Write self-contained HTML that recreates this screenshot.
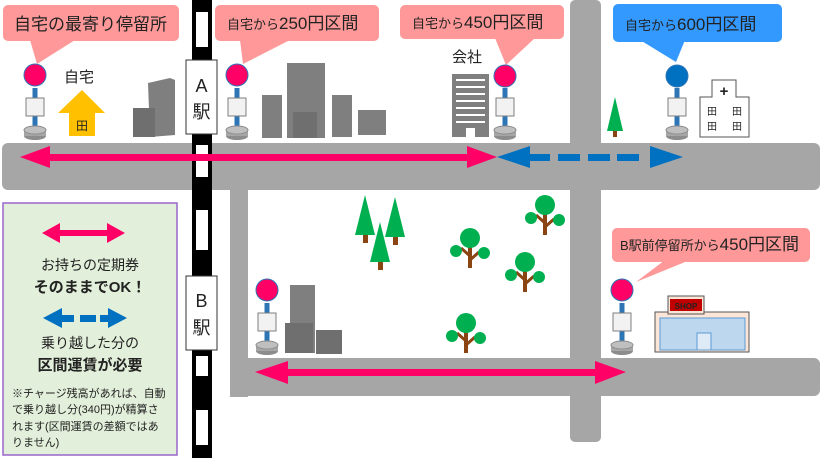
<!DOCTYPE html>
<html><head><meta charset="utf-8"><style>
body{margin:0;width:830px;height:458px;overflow:hidden;background:#fff}
svg{display:block}
text{font-family:"Liberation Sans","Noto Sans CJK JP",sans-serif;fill:#222}
</style></head><body>
<svg width="830" height="458" viewBox="0 0 830 458">
<defs>
<g id="stop">
<rect x="-2.5" y="8" width="5" height="42" fill="#2e75b6"/>
<rect x="-9" y="18" width="18" height="18" fill="#f2f2f2" stroke="#7f7f7f"/>
<ellipse cx="0" cy="56" rx="11" ry="4" fill="#8c8c8c"/>
<rect x="-11" y="50" width="22" height="6" fill="#a6a6a6"/>
<ellipse cx="0" cy="50" rx="11" ry="4" fill="#bfbfbf" stroke="#8c8c8c"/>
</g>
<g id="tree">
<rect x="-2" y="8" width="4" height="22" fill="#8b4513"/>
<path d="M0 18 L-9 10 M0 22 L9 14" stroke="#8b4513" stroke-width="3"/>
<circle cx="0" cy="0" r="10" fill="#00b050"/>
<circle cx="-14" cy="13" r="6" fill="#00b050"/>
<circle cx="14" cy="15" r="6" fill="#00b050"/>
</g>
<g id="pine">
<path d="M0 0 L-10 40 L10 40Z" fill="#00b050"/>
<rect x="-2" y="40" width="5" height="8" fill="#8b4513"/>
</g>
</defs>

<!-- roads -->
<rect x="2" y="143" width="818" height="47" rx="6" fill="#a6a6a6"/>
<rect x="570" y="0" width="31" height="442" rx="5" fill="#a6a6a6"/>
<rect x="230" y="185" width="18" height="212" fill="#a6a6a6"/>
<rect x="230" y="358" width="590" height="38" rx="6" fill="#a6a6a6"/>

<!-- railway -->
<rect x="192" y="0" width="20" height="458" fill="#000"/>
<g fill="#fff">
<rect x="196" y="12" width="12" height="35"/><rect x="196" y="145" width="12" height="32"/>
<rect x="196" y="210" width="12" height="40"/><rect x="196" y="356" width="12" height="20"/>
<rect x="196" y="410" width="12" height="35"/>
</g>
<rect x="186" y="60" width="31" height="74" fill="#fff" stroke="#333"/>
<text x="201.5" y="92" font-size="18" text-anchor="middle">A</text>
<text x="201.5" y="118" font-size="18" text-anchor="middle">駅</text>
<rect x="186" y="276" width="31" height="74" fill="#fff" stroke="#333"/>
<text x="201.5" y="307" font-size="18" text-anchor="middle">B</text>
<text x="201.5" y="334" font-size="18" text-anchor="middle">駅</text>

<!-- bubbles -->
<g fill="#ff9999">
<rect x="3" y="5" width="176" height="36" rx="5"/><path d="M30 40 L37 64 L75 40Z"/>
<rect x="215" y="5" width="164" height="36" rx="5"/><path d="M240 40 L243 64 L290 40Z"/>
<rect x="400" y="5" width="164" height="34" rx="5"/><path d="M495 38 L506 65 L535 38Z"/>
<rect x="612" y="228" width="198" height="34" rx="5"/><path d="M690 260 L636 282 L665 260Z"/>
</g>
<g fill="#3399ff"><rect x="613" y="4" width="169" height="38" rx="5"/><path d="M640 40 L676 62 L685 40Z"/></g>
<text x="14" y="30" font-size="17">自宅の最寄り停留所</text>
<text x="227" y="29" font-size="13">自宅から<tspan font-size="17">250円区間</tspan></text>
<text x="412" y="28" font-size="13">自宅から<tspan font-size="17">450円区間</tspan></text>
<text x="625" y="30" font-size="13">自宅から<tspan font-size="17">600円区間</tspan></text>
<text x="620" y="250" font-size="13">B駅前停留所から<tspan font-size="17">450円区間</tspan></text>

<!-- stops -->
<use href="#stop" x="35" y="80"/><circle cx="35" cy="75" r="11" fill="#ff0066" stroke="#2e75b6"/>
<use href="#stop" x="237" y="80"/><circle cx="237" cy="75" r="11" fill="#ff0066" stroke="#2e75b6"/>
<use href="#stop" x="505" y="80"/><circle cx="505" cy="76" r="11" fill="#ff0066" stroke="#2e75b6"/>
<use href="#stop" x="677" y="80"/><circle cx="677" cy="76" r="11" fill="#0070c0" stroke="#2e75b6"/>
<use href="#stop" x="267" y="295"/><circle cx="267" cy="290" r="11" fill="#ff0066" stroke="#2e75b6"/>
<use href="#stop" x="622" y="295"/><circle cx="622" cy="290" r="11" fill="#ff0066" stroke="#2e75b6"/>

<!-- home -->
<text x="64" y="82" font-size="15">自宅</text>
<path d="M82 90 L105 113 L95 113 L95 136 L69 136 L69 113 L58 113Z" fill="#ffc000"/>
<text x="82" y="130" font-size="12" text-anchor="middle" fill="#7f6000">田</text>

<!-- gray buildings -->
<g fill="#7f7f7f">
<path d="M148 83 L170 78 L175 80 L175 135 L150 137Z"/>
<rect x="133" y="108" width="22" height="29" fill="#6f6f6f"/>
<rect x="262" y="95" width="20" height="43"/>
<rect x="287" y="63" width="38" height="75"/>
<rect x="293" y="112" width="24" height="26" fill="#6f6f6f"/>
<rect x="332" y="95" width="20" height="42"/>
<rect x="358" y="110" width="28" height="25"/>
<rect x="290" y="285" width="25" height="68"/>
<rect x="285" y="323" width="28" height="30" fill="#6f6f6f"/>
<rect x="316" y="330" width="26" height="24" fill="#6f6f6f"/>
</g>

<!-- company -->
<text x="452" y="62" font-size="15">会社</text>
<rect x="452" y="74" width="37" height="63" fill="#7f7f7f"/>
<g stroke="#fff" stroke-width="2"><path d="M456 80h29M456 87h29M456 94h29M456 101h29M456 108h29M456 115h29M456 122h29"/></g>
<rect x="466" y="128" width="9" height="9" fill="#fff"/>

<!-- hospital -->
<path d="M700 137 L700 97 L712 97 L712 80 L736 80 L736 97 L749 97 L749 137Z" fill="#fff" stroke="#555"/>
<text x="724" y="96" font-size="15" text-anchor="middle" fill="#ff0000" font-weight="bold">+</text>
<text x="712" y="115" font-size="10" text-anchor="middle">田</text><text x="737" y="115" font-size="10" text-anchor="middle">田</text>
<text x="712" y="130" font-size="10" text-anchor="middle">田</text><text x="737" y="130" font-size="10" text-anchor="middle">田</text>

<!-- trees -->
<path d="M615 97 L607 131 L623 131Z" fill="#00b050"/><rect x="613" y="131" width="4" height="6" fill="#8b4513"/>
<use href="#pine" x="365" y="195"/><use href="#pine" x="395" y="197"/><use href="#pine" x="380" y="222"/>
<use href="#tree" x="470" y="238"/><use href="#tree" x="545" y="205"/><use href="#tree" x="525" y="262"/><use href="#tree" x="466" y="323"/>

<!-- shop -->
<rect x="655" y="312" width="94" height="40" fill="#fbe5d6" stroke="#555"/>
<rect x="668" y="296" width="36" height="18" fill="#fbe5d6" stroke="#555"/>
<rect x="670" y="299" width="32" height="12" fill="#c00000"/>
<text x="686" y="309" font-size="8" text-anchor="middle" fill="#fff" font-weight="bold">SHOP</text>
<rect x="660" y="318" width="85" height="32" fill="#bdd7ee" stroke="#5b9bd5"/>
<rect x="697" y="333" width="14" height="17" fill="#deebf7" stroke="#5b9bd5"/>

<!-- arrows -->
<g fill="#ff0066">
<rect x="40" y="154" width="430" height="7"/>
<path d="M20 157 L50 146 L50 168Z M497 157 L467 146 L467 168Z"/>
<rect x="275" y="369" width="330" height="7"/>
<path d="M255 372 L288 361 L288 384Z M626 372 L595 361 L595 384Z"/>
</g>
<g fill="#0070c0">
<path d="M497 157 L530 146 L530 168Z M683 157 L650 146 L650 168Z"/>
<rect x="528" y="154" width="22" height="7"/><rect x="558" y="154" width="22" height="7"/>
<rect x="588" y="154" width="22" height="7"/><rect x="617" y="154" width="22" height="7"/>
</g>

<!-- legend -->
<rect x="3" y="203" width="174" height="252" fill="#e2efda" stroke="#9966cc" stroke-width="1.5"/>
<g fill="#ff0066"><rect x="55" y="230" width="60" height="6"/><path d="M42 233 L60 223 L60 243Z M125 233 L107 223 L107 243Z"/></g>
<g fill="#0070c0"><path d="M43 318 L62 308 L62 328Z M127 318 L108 308 L108 328Z"/><rect x="60" y="315" width="14" height="7"/><rect x="80" y="315" width="16" height="7"/><rect x="100" y="315" width="10" height="7"/></g>
<text x="90" y="270" font-size="14" text-anchor="middle">お持ちの定期券</text>
<text x="90" y="292" font-size="15" text-anchor="middle" font-weight="bold">そのままでOK！</text>
<text x="90" y="348" font-size="14" text-anchor="middle">乗り越した分の</text>
<text x="90" y="370" font-size="15" text-anchor="middle" font-weight="bold">区間運賃が必要</text>
<text x="12" y="397" font-size="11">※チャージ残高があれば、自動</text>
<text x="12" y="413" font-size="11">で乗り越し分(340円)が精算さ</text>
<text x="12" y="430" font-size="11">れます(区間運賃の差額ではあ</text>
<text x="12" y="446" font-size="11">りません)</text>
</svg>
</body></html>
